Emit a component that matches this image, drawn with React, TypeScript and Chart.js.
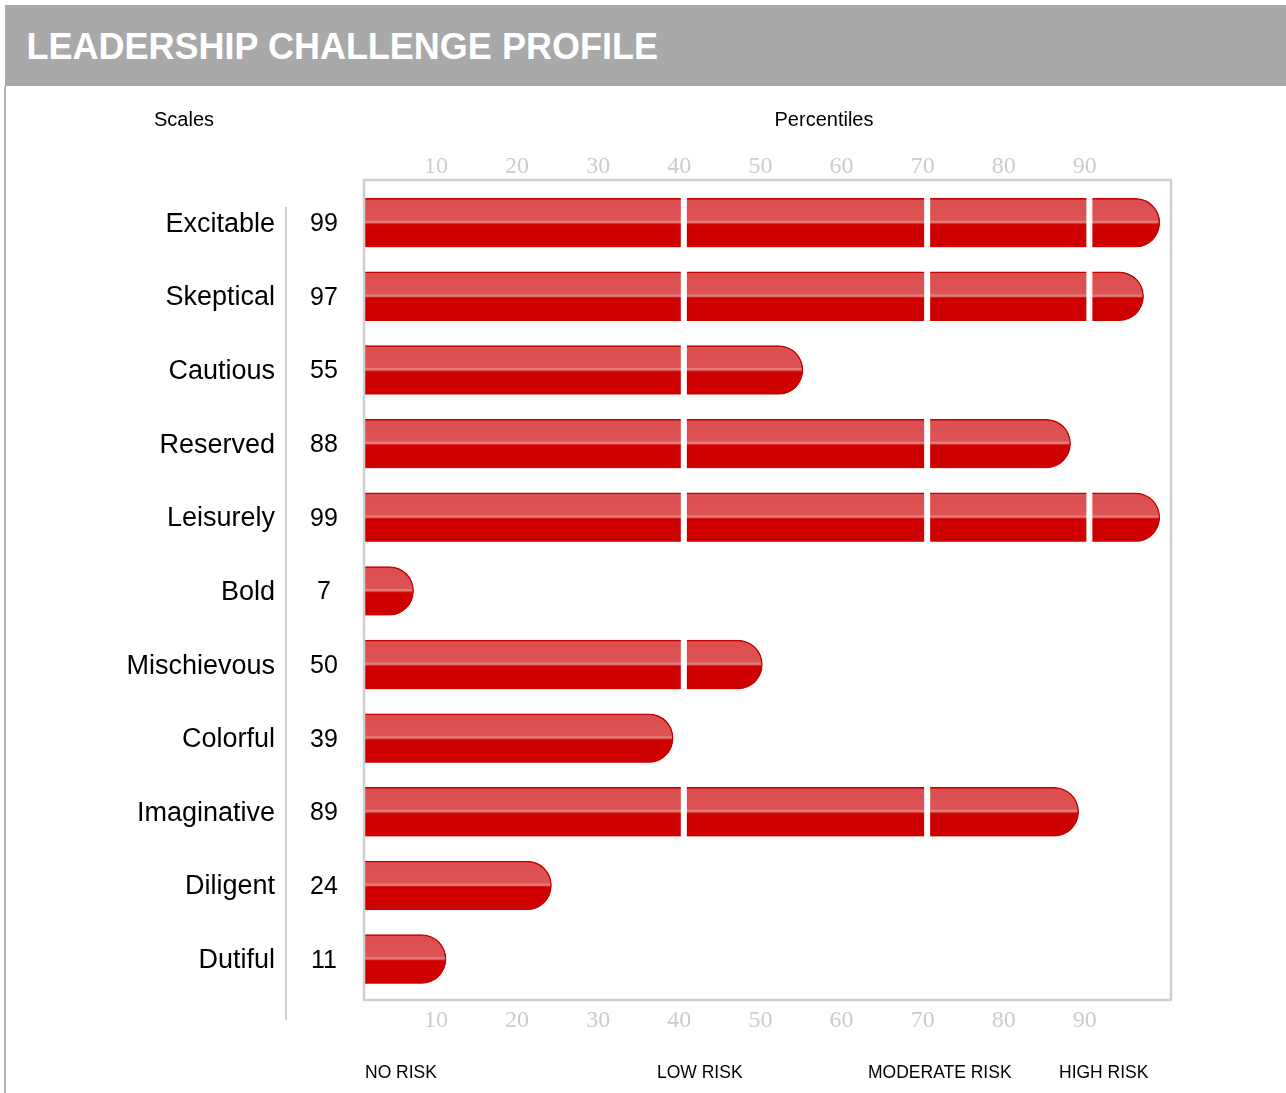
import React, { useEffect, useRef } from 'react';
import { Chart, registerables } from 'chart.js';

Chart.register(...registerables);

// ---- data ----
const scaleNames = ['Excitable', 'Skeptical', 'Cautious', 'Reserved', 'Leisurely', 'Bold', 'Mischievous', 'Colorful', 'Imaginative', 'Diligent', 'Dutiful'];
const percentiles = [99, 97, 55, 88, 99, 7, 50, 39, 89, 24, 11];
const tickValues = [10, 20, 30, 40, 50, 60, 70, 80, 90];
const zoneBreaks = [40, 70, 90];
const riskLabels = ['NO RISK', 'LOW RISK', 'MODERATE RISK', 'HIGH RISK'];
const titleText = 'LEADERSHIP CHALLENGE PROFILE';
const leftHeader = 'Scales';
const rightHeader = 'Percentiles';

// ---- layout (positions only) ----
const riskLabelLeft = [365, 657, 868, 1059];
const SANS = 'Arial, "Liberation Sans", Helvetica, sans-serif';
const SERIF = '"Times New Roman", "Liberation Serif", Times, serif';
const BAR_H = 49;

const barGradient = (ctx: any) => {
  const chart = ctx.chart;
  const ys = chart.scales && chart.scales.y;
  if (!ys || !chart.chartArea || ctx.dataIndex === undefined) return '#d00000';
  const c = ys.getPixelForValue(ctx.dataIndex);
  const top = c - BAR_H / 2;
  const bot = c + BAR_H / 2;
  const g = chart.ctx.createLinearGradient(0, top, 0, bot);
  g.addColorStop(0, '#c80000');
  g.addColorStop(0.03, '#dc4e4f');
  g.addColorStop(0.45, '#dd5454');
  g.addColorStop(0.47, '#e58080');
  g.addColorStop(0.5, '#e07272');
  g.addColorStop(0.52, '#d41818');
  g.addColorStop(0.54, '#d00000');
  g.addColorStop(1, '#cf0000');
  return g;
};

const decorPlugin = {
  id: 'decor',
  afterDatasetsDraw(chart: any) {
    const { ctx, chartArea } = chart;
    const xs = chart.scales.x;
    const meta = chart.getDatasetMeta(0);
    ctx.save();
    // white separators between risk zones
    ctx.fillStyle = '#ffffff';
    meta.data.forEach((el: any, i: number) => {
      const v = percentiles[i];
      zoneBreaks.forEach((b) => {
        if (v > b + 0.5) {
          const x = xs.getPixelForValue(b);
          ctx.fillRect(x - 0.5, el.y - el.height / 2 - 2, 6, el.height + 4);
        }
      });
    });
    // plot frame
    ctx.strokeStyle = '#cfcfcf';
    ctx.lineWidth = 2.5;
    ctx.strokeRect(chartArea.left - 1, chartArea.top - 6, chartArea.right - chartArea.left + 2, chartArea.bottom - chartArea.top + 10);
    ctx.restore();
  },
  afterDraw(chart: any) {
    const { ctx } = chart;
    const ys = chart.scales.y;
    ctx.save();
    // separator line between names and values
    ctx.strokeStyle = '#bdbdbd';
    ctx.lineWidth = 1.5;
    ctx.beginPath();
    ctx.moveTo(286, 207);
    ctx.lineTo(286, 1020);
    ctx.stroke();
    // percentile values column
    ctx.fillStyle = '#000';
    ctx.font = `25px ${SANS}`;
    ctx.textAlign = 'center';
    ctx.textBaseline = 'middle';
    percentiles.forEach((v, i) => {
      ctx.fillText(String(v), 324, ys.getPixelForValue(i) + 1.5);
    });
    ctx.restore();
  },
};

const setTicks = (scale: any) => {
  scale.ticks = tickValues.map((v) => ({ value: v }));
};

export default function App() {
  const ref = useRef<HTMLCanvasElement | null>(null);

  useEffect(() => {
    if (!ref.current) return;
    const tickFont = { family: SERIF, size: 24 };
    const chart = new Chart(ref.current, {
      type: 'bar',
      data: {
        labels: scaleNames,
        datasets: [
          {
            data: percentiles,
            backgroundColor: barGradient as any,
            borderColor: '#c40000',
            borderWidth: { top: 1.5, right: 1.5, bottom: 0, left: 0 } as any,
            borderSkipped: 'start',
            borderRadius: { topLeft: 0, bottomLeft: 0, topRight: 40, bottomRight: 40 },
            barThickness: BAR_H,
          },
        ],
      },
      options: {
        indexAxis: 'y',
        animation: false,
        responsive: false,
        layout: { padding: { left: 0, right: 116, top: 0, bottom: 0 } },
        plugins: {
          legend: { display: false },
          tooltip: { enabled: false },
          title: { display: false },
        },
        scales: {
          x: {
            type: 'linear',
            position: 'top',
            min: 1,
            max: 100.25,
            grid: { display: false, drawTicks: false },
            border: { display: false },
            afterBuildTicks: setTicks,
            afterFit: (s: any) => { s.height = 186; },
            ticks: { padding: 5, font: tickFont, color: '#cccccc', labelOffset: -2, maxRotation: 0, autoSkip: false },
          },
          x2: {
            type: 'linear',
            axis: 'x',
            position: 'bottom',
            min: 1,
            max: 100.25,
            grid: { display: false, drawTicks: false },
            border: { display: false },
            afterBuildTicks: setTicks,
            afterFit: (s: any) => { s.height = 97; },
            ticks: { padding: 10, font: tickFont, color: '#cccccc', labelOffset: -2, maxRotation: 0, autoSkip: false },
          },
          y: {
            position: 'left',
            grid: { display: false, drawTicks: false },
            border: { display: false },
            afterFit: (s: any) => { s.width = 365; s.paddingTop = 0; s.paddingBottom = 0; },
            ticks: { padding: 90, labelOffset: 1.5, font: { family: SANS, size: 27 }, color: '#000000', autoSkip: false },
          },
        } as any,
      },
      plugins: [decorPlugin],
    });
    return () => chart.destroy();
  }, []);

  return (
    <div style={{ position: 'absolute', left: 0, top: 0, width: 1286, height: 1093, overflow: 'hidden', background: '#fff', fontFamily: SANS }}>
      <canvas ref={ref} width={1286} height={1093} style={{ position: 'absolute', left: 0, top: 0, width: 1286, height: 1093 }} />
      <div style={{ position: 'absolute', left: 5, top: 5, width: 1281, height: 81, background: '#a9a9a9' }} />
      <div style={{ position: 'absolute', left: 26.5, top: 28.8, fontSize: 36, lineHeight: '36px', fontWeight: 'bold', color: '#fff', whiteSpace: 'nowrap' }}>{titleText}</div>
      <div style={{ position: 'absolute', left: 4, top: 86, width: 2, height: 1007, background: '#b4b4b4' }} />
      <div style={{ position: 'absolute', left: 84, width: 200, top: 108.5, fontSize: 20, lineHeight: '20px', textAlign: 'center', color: '#000' }}>{leftHeader}</div>
      <div style={{ position: 'absolute', left: 724, width: 200, top: 108.5, fontSize: 20, lineHeight: '20px', textAlign: 'center', color: '#000' }}>{rightHeader}</div>
      {riskLabels.map((t, i) => (
        <div key={t} style={{ position: 'absolute', left: riskLabelLeft[i], top: 1063.5, fontSize: 17.5, lineHeight: '17.5px', color: '#000', whiteSpace: 'nowrap' }}>{t}</div>
      ))}
    </div>
  );
}
